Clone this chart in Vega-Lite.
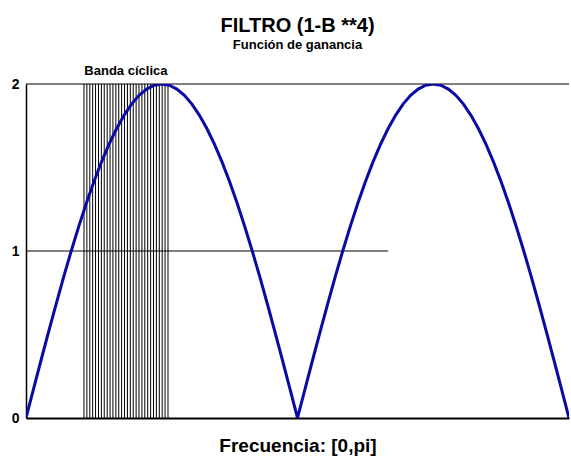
{
  "$schema": "https://vega.github.io/schema/vega-lite/v6.json",
  "width": 543,
  "height": 334,
  "autosize": {"type": "none"},
  "padding": {"left": 26, "top": 84, "right": 2, "bottom": 39},
  "background": "white",
  "config": {"view": {"stroke": null}, "font": "Liberation Sans"},
  "title": {
    "text": "FILTRO (1-B **4)",
    "subtitle": "Función de ganancia",
    "anchor": "middle",
    "frame": "group",
    "fontSize": 20,
    "fontWeight": "bold",
    "font": "Liberation Sans",
    "subtitleFont": "Liberation Sans",
    "subtitleFontSize": 13,
    "subtitleFontWeight": "bold",
    "subtitleColor": "black",
    "color": "black",
    "subtitlePadding": 3,
    "offset": 13
  },
  "datasets": {
    "gain": [
      {"f": 0, "g": 0}, {"f": 0.0139, "g": 0.1743}, {"f": 0.0278, "g": 0.3473}, {"f": 0.0417, "g": 0.5176},
      {"f": 0.0556, "g": 0.684}, {"f": 0.0694, "g": 0.8452}, {"f": 0.0833, "g": 1}, {"f": 0.0972, "g": 1.1472},
      {"f": 0.1111, "g": 1.2856}, {"f": 0.125, "g": 1.4142}, {"f": 0.1389, "g": 1.5321}, {"f": 0.1528, "g": 1.6383},
      {"f": 0.1667, "g": 1.7321}, {"f": 0.1806, "g": 1.8126}, {"f": 0.1944, "g": 1.8794}, {"f": 0.2083, "g": 1.9319},
      {"f": 0.2222, "g": 1.9696}, {"f": 0.2361, "g": 1.9924}, {"f": 0.25, "g": 2},
      {"f": 0.2639, "g": 1.9924}, {"f": 0.2778, "g": 1.9696}, {"f": 0.2917, "g": 1.9319}, {"f": 0.3056, "g": 1.8794},
      {"f": 0.3194, "g": 1.8126}, {"f": 0.3333, "g": 1.7321}, {"f": 0.3472, "g": 1.6383}, {"f": 0.3611, "g": 1.5321},
      {"f": 0.375, "g": 1.4142}, {"f": 0.3889, "g": 1.2856}, {"f": 0.4028, "g": 1.1472}, {"f": 0.4167, "g": 1},
      {"f": 0.4306, "g": 0.8452}, {"f": 0.4444, "g": 0.684}, {"f": 0.4583, "g": 0.5176}, {"f": 0.4722, "g": 0.3473},
      {"f": 0.4861, "g": 0.1743}, {"f": 0.5, "g": 0},
      {"f": 0.5139, "g": 0.1743}, {"f": 0.5278, "g": 0.3473}, {"f": 0.5417, "g": 0.5176}, {"f": 0.5556, "g": 0.684},
      {"f": 0.5694, "g": 0.8452}, {"f": 0.5833, "g": 1}, {"f": 0.5972, "g": 1.1472}, {"f": 0.6111, "g": 1.2856},
      {"f": 0.625, "g": 1.4142}, {"f": 0.6389, "g": 1.5321}, {"f": 0.6528, "g": 1.6383}, {"f": 0.6667, "g": 1.7321},
      {"f": 0.6806, "g": 1.8126}, {"f": 0.6944, "g": 1.8794}, {"f": 0.7083, "g": 1.9319}, {"f": 0.7222, "g": 1.9696},
      {"f": 0.7361, "g": 1.9924}, {"f": 0.75, "g": 2},
      {"f": 0.7639, "g": 1.9924}, {"f": 0.7778, "g": 1.9696}, {"f": 0.7917, "g": 1.9319}, {"f": 0.8056, "g": 1.8794},
      {"f": 0.8194, "g": 1.8126}, {"f": 0.8333, "g": 1.7321}, {"f": 0.8472, "g": 1.6383}, {"f": 0.8611, "g": 1.5321},
      {"f": 0.875, "g": 1.4142}, {"f": 0.8889, "g": 1.2856}, {"f": 0.9028, "g": 1.1472}, {"f": 0.9167, "g": 1},
      {"f": 0.9306, "g": 0.8452}, {"f": 0.9444, "g": 0.684}, {"f": 0.9583, "g": 0.5176}, {"f": 0.9722, "g": 0.3473},
      {"f": 0.9861, "g": 0.1743}, {"f": 1, "g": 0}
    ],
    "band": [
      {"f": 0.1068}, {"f": 0.1121}, {"f": 0.1175}, {"f": 0.1228}, {"f": 0.1281}, {"f": 0.1335},
      {"f": 0.1388}, {"f": 0.1441}, {"f": 0.1495}, {"f": 0.1548}, {"f": 0.1601}, {"f": 0.1655},
      {"f": 0.1708}, {"f": 0.1761}, {"f": 0.1815}, {"f": 0.1868}, {"f": 0.1921}, {"f": 0.1975},
      {"f": 0.2028}, {"f": 0.2081}, {"f": 0.2135}, {"f": 0.2188}, {"f": 0.2241}, {"f": 0.2295},
      {"f": 0.2348}, {"f": 0.2401}, {"f": 0.2455}, {"f": 0.2508}, {"f": 0.2561}, {"f": 0.2615}
    ],
    "hlines": [
      {"from": 0, "to": 1, "level": 2},
      {"from": 0, "to": 0.667, "level": 1}
    ]
  },
  "layer": [
    {
      "data": {"name": "band"},
      "mark": {"type": "rule", "color": "black", "strokeWidth": 1},
      "encoding": {
        "x": {"field": "f", "type": "quantitative", "scale": {"domain": [0, 1], "nice": false, "zero": false},
          "axis": {"title": "Frecuencia: [0,pi]", "labels": false, "ticks": false, "grid": false,
            "domainColor": "black", "domainWidth": 2, "titleFontSize": 19, "titleFontWeight": "bold",
            "titleFont": "Liberation Sans", "titleColor": "black", "titlePadding": 18}},
        "y": {"datum": 0, "type": "quantitative", "scale": {"domain": [0, 2], "nice": false},
          "axis": {"title": null, "values": [0, 1, 2], "format": ".0f", "labelOverlap": false, "ticks": false, "grid": false, "labelPadding": 7,
            "labelFontSize": 14, "labelFontWeight": "bold", "labelColor": "black", "labelFont": "Liberation Sans",
            "domainColor": "black", "domainWidth": 1.5}},
        "y2": {"datum": 2}
      }
    },
    {
      "data": {"name": "hlines"},
      "mark": {"type": "rule", "color": "black", "strokeWidth": 1.2},
      "encoding": {
        "x": {"field": "from", "type": "quantitative"},
        "x2": {"field": "to"},
        "y": {"field": "level", "type": "quantitative"}
      }
    },
    {
      "data": {"name": "gain"},
      "mark": {"type": "line", "color": "#0a0aa6", "strokeWidth": 3, "clip": true},
      "encoding": {
        "x": {"field": "f", "type": "quantitative"},
        "y": {"field": "g", "type": "quantitative"}
      }
    },
    {
      "data": {"values": [{}]},
      "mark": {"type": "text", "text": "Banda cíclica", "fontSize": 13, "fontWeight": "bold", "font": "Liberation Sans", "color": "black", "baseline": "bottom", "dy": -6},
      "encoding": {
        "x": {"datum": 0.184, "type": "quantitative"},
        "y": {"datum": 2, "type": "quantitative"}
      }
    }
  ]
}
